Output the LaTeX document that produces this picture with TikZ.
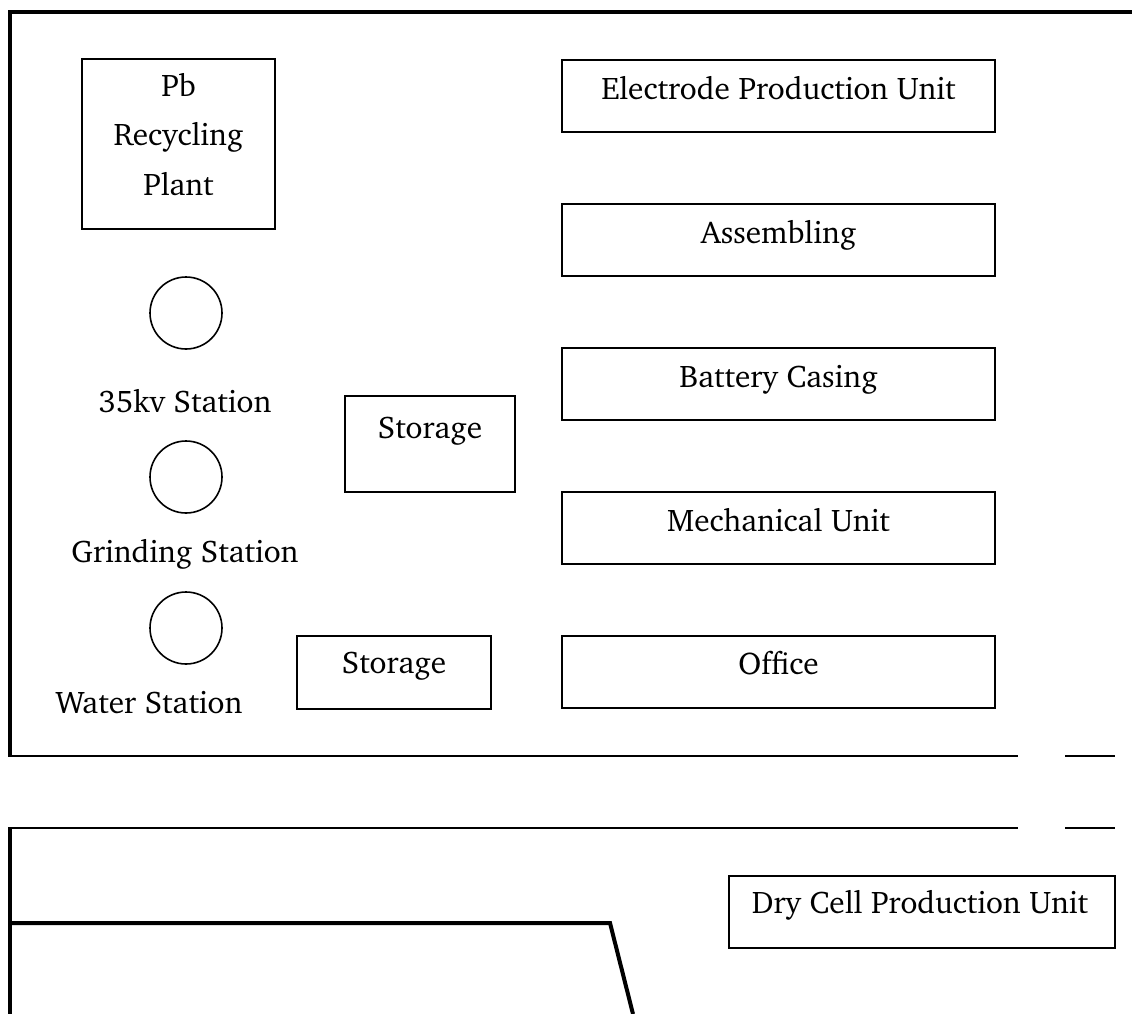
\documentclass[tikz,border=0pt]{standalone}
\usepackage[T1]{fontenc}
\usepackage{charter}
\begin{document}
\begin{tikzpicture}[x=1pt,y=-1pt,
  box/.style={draw=black,line width=1.6pt,rectangle,inner sep=0pt},
  stn/.style={draw=black,line width=1.6pt,circle,minimum size=72pt,inner sep=0pt},
  txt/.style={anchor=base,inner sep=0pt,font=\fontsize{31.3}{36}\selectfont},
  wall/.style={line width=4pt},
  thin wall/.style={line width=1.8pt}]
\useasboundingbox[fill=white] (0,0) rectangle (1132,1014);

% walls
\coordinate (tr) at (1132,12);
\coordinate (tl) at (10,12);
\coordinate (bl1) at (10,757);
\draw[wall] (tr) -- (tl) -- (bl1);
\coordinate (s1a) at (8.5,756); \coordinate (s1b) at (1018,756);
\coordinate (s1c) at (1065,756); \coordinate (s1d) at (1115,756);
\draw[thin wall] (s1a) -- (s1b);
\draw[thin wall] (s1c) -- (s1d);
\coordinate (s2a) at (8.5,828); \coordinate (s2b) at (1018,828);
\coordinate (s2c) at (1065,828); \coordinate (s2d) at (1115,828);
\draw[thin wall] (s2a) -- (s2b);
\draw[thin wall] (s2c) -- (s2d);
\coordinate (lb1) at (10,827); \coordinate (lb2) at (10,1014);
\draw[wall] (lb1) -- (lb2);
\coordinate (k1) at (10,923); \coordinate (k2) at (610,923); \coordinate (k3) at (633,1014);
\draw[wall] (k1) -- (k2) -- (k3);

% Pb recycling plant
\node[box,minimum width=193pt,minimum height=170pt] (pb) at (178.5,144) {};
\node[txt] (pb1) at (178.5,97) {Pb};
\node[txt] (pb2) at (178.5,146) {Recycling};
\node[txt] (pb3) at (178.5,195) {Plant};

% stations
\node[stn] (c1) at (186,313) {};
\node[txt] (c1t) at (185,412) {35kv Station};
\node[stn] (c2) at (186,477) {};
\node[txt] (c2t) at (185,562) {Grinding Station};
\node[stn] (c3) at (186,628) {};
\node[txt] (c3t) at (149,713) {Water Station};

% storages
\node[box,minimum width=170pt,minimum height=96pt] (st1) at (430,444) {};
\node[txt] (st1t) at (430,438) {Storage};
\node[box,minimum width=194pt,minimum height=73pt] (st2) at (394,672.5) {};
\node[txt] (st2t) at (394,673) {Storage};

% right column
\node[box,minimum width=433pt,minimum height=72pt] (u1) at (778.5,96) {};
\node[txt] (u1t) at (778.5,100) {Electrode Production Unit};
\node[box,minimum width=433pt,minimum height=72pt] (u2) at (778.5,240) {};
\node[txt] (u2t) at (778.5,243) {Assembling};
\node[box,minimum width=433pt,minimum height=72pt] (u3) at (778.5,384) {};
\node[txt] (u3t) at (778.5,387) {Battery Casing};
\node[box,minimum width=433pt,minimum height=72pt] (u4) at (778.5,528) {};
\node[txt] (u4t) at (778.5,531) {Mechanical Unit};
\node[box,minimum width=433pt,minimum height=72pt] (u5) at (778.5,672) {};
\node[txt] (u5t) at (778.5,674) {Office};

% dry cell
\node[box,minimum width=386pt,minimum height=72pt] (dc) at (922,912) {};
\node[txt] (dct) at (920,913) {Dry Cell Production Unit};
\end{tikzpicture}
\end{document}
